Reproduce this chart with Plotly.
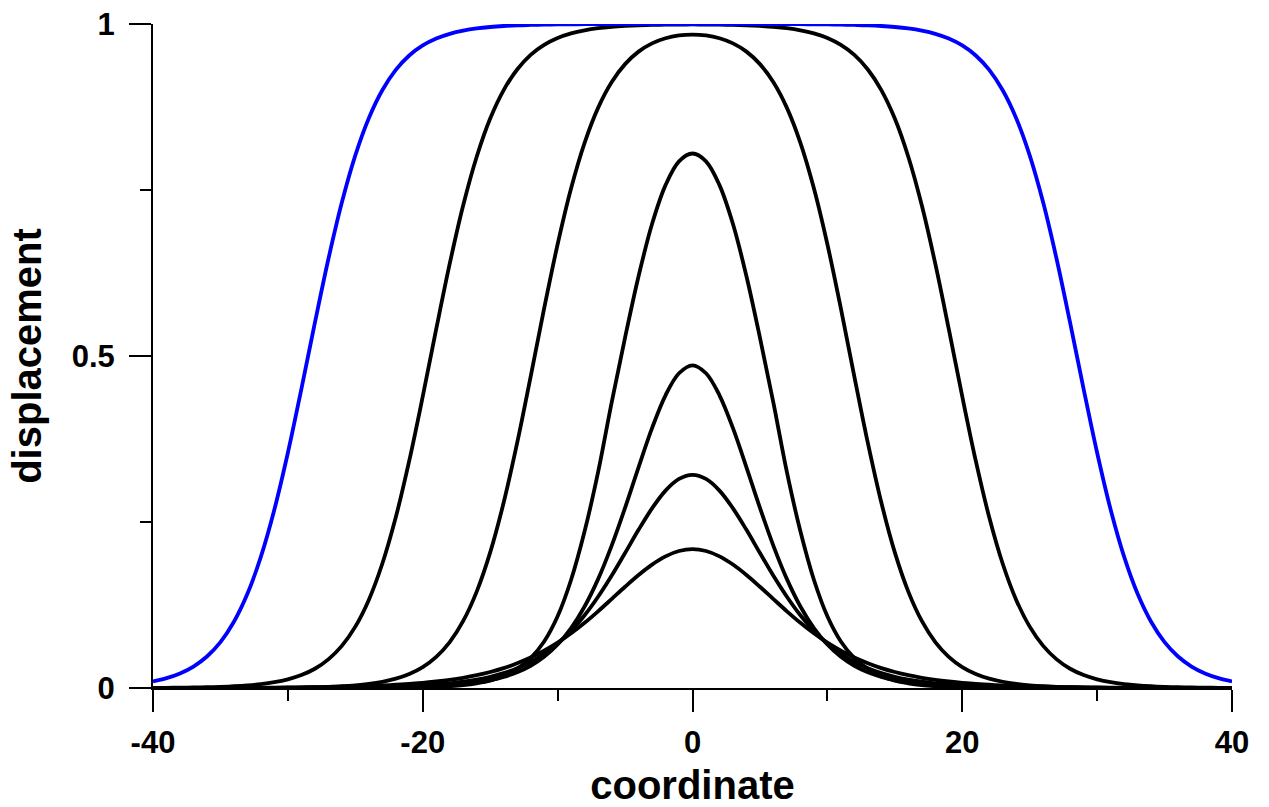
import plotly.graph_objects as go

coordinate = list(range(-40, 41))

disp_blue = [0.0100, 0.0148, 0.0219, 0.0323, 0.0474, 0.0691, 0.0998, 0.1419, 0.1978, 0.2689,
             0.3543, 0.4502, 0.5498, 0.6457, 0.7311, 0.8022, 0.8581, 0.9002, 0.9309, 0.9526,
             0.9677, 0.9781, 0.9852, 0.9900, 0.9933, 0.9955, 0.9970, 0.9980, 0.9986, 0.9991,
             0.9994, 0.9996, 0.9997, 0.9998, 0.9999, 0.9999, 1.0, 1.0, 1.0, 1.0,
             1.0,
             1.0, 1.0, 1.0, 1.0, 0.9999, 0.9999, 0.9998, 0.9997, 0.9996, 0.9994,
             0.9991, 0.9986, 0.9980, 0.9970, 0.9955, 0.9933, 0.9900, 0.9852, 0.9781, 0.9677,
             0.9526, 0.9309, 0.9002, 0.8581, 0.8022, 0.7311, 0.6457, 0.5498, 0.4502, 0.3543,
             0.2689, 0.1978, 0.1419, 0.0998, 0.0691, 0.0474, 0.0323, 0.0219, 0.0148, 0.0100]

disp_c2 = [0.0002, 0.0003, 0.0005, 0.0008, 0.0011, 0.0017, 0.0026, 0.0039, 0.0058, 0.0087,
           0.0131, 0.0195, 0.0290, 0.0431, 0.0634, 0.0924, 0.1327, 0.1871, 0.2571, 0.3424,
           0.4391, 0.5407, 0.6390, 0.7269, 0.8000, 0.8576, 0.9005, 0.9315, 0.9535, 0.9685,
           0.9789, 0.9858, 0.9905, 0.9937, 0.9958, 0.9972, 0.9981, 0.9986, 0.9990, 0.9992,
           0.9993,
           0.9992, 0.9990, 0.9986, 0.9981, 0.9972, 0.9958, 0.9937, 0.9905, 0.9858, 0.9789,
           0.9685, 0.9535, 0.9315, 0.9005, 0.8576, 0.8000, 0.7269, 0.6390, 0.5407, 0.4391,
           0.3424, 0.2571, 0.1871, 0.1327, 0.0924, 0.0634, 0.0431, 0.0290, 0.0195, 0.0131,
           0.0087, 0.0058, 0.0039, 0.0026, 0.0017, 0.0011, 0.0008, 0.0005, 0.0003, 0.0002]

disp_c3 = [0.0, 0.0, 0.0, 0.0, 0.0, 0.0001, 0.0001, 0.0001, 0.0002, 0.0003,
           0.0005, 0.0008, 0.0012, 0.0018, 0.0027, 0.0041, 0.0062, 0.0094, 0.0141, 0.0212,
           0.0316, 0.0470, 0.0692, 0.1010, 0.1452, 0.2042, 0.2793, 0.3691, 0.4691, 0.5716,
           0.6683, 0.7526, 0.8211, 0.8737, 0.9122, 0.9396, 0.9584, 0.9708, 0.9785, 0.9827,
           0.9840,
           0.9827, 0.9785, 0.9708, 0.9584, 0.9396, 0.9122, 0.8737, 0.8211, 0.7526, 0.6683,
           0.5716, 0.4691, 0.3691, 0.2793, 0.2042, 0.1452, 0.1010, 0.0692, 0.0470, 0.0316,
           0.0212, 0.0141, 0.0094, 0.0062, 0.0041, 0.0027, 0.0018, 0.0012, 0.0008, 0.0005,
           0.0003, 0.0002, 0.0001, 0.0001, 0.0001, 0.0, 0.0, 0.0, 0.0, 0.0]

disp_c4 = [0.0, 0.0, 0.0, 0.0, 0.0, 0.0, 0.0, 0.0, 0.0, 0.0,
           0.0, 0.0, 0.0, 0.0, 0.0, 0.0, 0.0001, 0.0002, 0.0004, 0.0006,
           0.0010, 0.0016, 0.0027, 0.0043, 0.0070, 0.0110, 0.0180, 0.0290, 0.0450, 0.0700,
           0.1080, 0.1630, 0.2360, 0.3250, 0.4295, 0.5276, 0.6201, 0.6987, 0.7573, 0.7932,
           0.8050,
           0.7932, 0.7573, 0.6987, 0.6201, 0.5276, 0.4295, 0.3250, 0.2360, 0.1630, 0.1080,
           0.0700, 0.0450, 0.0290, 0.0180, 0.0110, 0.0070, 0.0043, 0.0027, 0.0016, 0.0010,
           0.0006, 0.0004, 0.0002, 0.0001, 0.0, 0.0, 0.0, 0.0, 0.0, 0.0,
           0.0, 0.0, 0.0, 0.0, 0.0, 0.0, 0.0, 0.0, 0.0, 0.0]

disp_c5 = [0.0, 0.0, 0.0, 0.0, 0.0, 0.0, 0.0, 0.0, 0.0, 0.0,
           0.0, 0.0001, 0.0001, 0.0002, 0.0002, 0.0003, 0.0005, 0.0007, 0.0010, 0.0014,
           0.0020, 0.0029, 0.0041, 0.0058, 0.0083, 0.0118, 0.0168, 0.0237, 0.0335, 0.0470,
           0.0655, 0.0903, 0.1228, 0.1640, 0.2141, 0.2714, 0.3324, 0.3913, 0.4408, 0.4740,
           0.4860,
           0.4740, 0.4408, 0.3913, 0.3324, 0.2714, 0.2141, 0.1640, 0.1228, 0.0903, 0.0655,
           0.0470, 0.0335, 0.0237, 0.0168, 0.0118, 0.0083, 0.0058, 0.0041, 0.0029, 0.0020,
           0.0014, 0.0010, 0.0007, 0.0005, 0.0003, 0.0002, 0.0002, 0.0001, 0.0001, 0.0,
           0.0, 0.0, 0.0, 0.0, 0.0, 0.0, 0.0, 0.0, 0.0, 0.0]

disp_c6 = [0.0, 0.0, 0.0, 0.0, 0.0, 0.0, 0.0001, 0.0001, 0.0001, 0.0002,
           0.0002, 0.0003, 0.0004, 0.0005, 0.0007, 0.0009, 0.0012, 0.0017, 0.0022, 0.0030,
           0.0040, 0.0053, 0.0071, 0.0095, 0.0127, 0.0169, 0.0224, 0.0297, 0.0391, 0.0513,
           0.0667, 0.0860, 0.1095, 0.1374, 0.1690, 0.2033, 0.2382, 0.2706, 0.2973, 0.3149,
           0.3210,
           0.3149, 0.2973, 0.2706, 0.2382, 0.2033, 0.1690, 0.1374, 0.1095, 0.0860, 0.0667,
           0.0513, 0.0391, 0.0297, 0.0224, 0.0169, 0.0127, 0.0095, 0.0071, 0.0053, 0.0040,
           0.0030, 0.0022, 0.0017, 0.0012, 0.0009, 0.0007, 0.0005, 0.0004, 0.0003, 0.0002,
           0.0002, 0.0001, 0.0001, 0.0001, 0.0, 0.0, 0.0, 0.0, 0.0, 0.0]

disp_c7 = [0.0001, 0.0001, 0.0001, 0.0001, 0.0002, 0.0002, 0.0003, 0.0004, 0.0005, 0.0006,
           0.0008, 0.0010, 0.0012, 0.0015, 0.0019, 0.0024, 0.0031, 0.0039, 0.0049, 0.0062,
           0.0077, 0.0098, 0.0123, 0.0154, 0.0193, 0.0241, 0.0299, 0.0372, 0.0458, 0.0562,
           0.0683, 0.0824, 0.0982, 0.1155, 0.1339, 0.1525, 0.1702, 0.1859, 0.1983, 0.2063,
           0.2090,
           0.2063, 0.1983, 0.1859, 0.1702, 0.1525, 0.1339, 0.1155, 0.0982, 0.0824, 0.0683,
           0.0562, 0.0458, 0.0372, 0.0299, 0.0241, 0.0193, 0.0154, 0.0123, 0.0098, 0.0077,
           0.0062, 0.0049, 0.0039, 0.0031, 0.0024, 0.0019, 0.0015, 0.0012, 0.0010, 0.0008,
           0.0006, 0.0005, 0.0004, 0.0003, 0.0002, 0.0002, 0.0001, 0.0001, 0.0001, 0.0001]

x_tickvals = [-40, -20, 0, 20, 40]
x_ticktext = ["-40", "-20", "0", "20", "40"]
x_minor = [-30, -10, 10, 30]
y_tickvals = [0, 0.5, 1]
y_ticktext = ["0", "0.5", "1"]
y_minor = [0.25, 0.75]

FONT = "Liberation Sans, Arial, sans-serif"

fig = go.Figure()
black_series = [disp_c7, disp_c6, disp_c5, disp_c4, disp_c3, disp_c2]
for ys in black_series:
    fig.add_trace(go.Scatter(x=coordinate, y=ys, mode="lines",
                             line=dict(color="black", width=3.8, shape="spline", smoothing=1),
                             cliponaxis=False, showlegend=False, hoverinfo="skip"))
fig.add_trace(go.Scatter(x=coordinate, y=disp_blue, mode="lines",
                         line=dict(color="#0000ff", width=3.8, shape="spline", smoothing=1),
                         cliponaxis=False, showlegend=False, hoverinfo="skip"))

fig.update_layout(
    width=1269, height=807,
    margin=dict(l=153, r=37, t=24, b=119, autoexpand=False),
    paper_bgcolor="white", plot_bgcolor="white",
    font=dict(family=FONT, color="black"),
    xaxis=dict(range=[-40, 40], tickmode="array", tickvals=x_tickvals, ticktext=x_ticktext,
               ticks="outside", ticklen=22, tickwidth=2, tickcolor="black",
               showline=True, linewidth=2, linecolor="black",
               showgrid=False, zeroline=False, automargin=False,
               tickfont=dict(family=FONT, size=31, weight="bold"),
               ticklabelstandoff=4,
               minor=dict(tickvals=x_minor, ticks="outside", ticklen=11, tickwidth=2, tickcolor="black", showgrid=False),
               title=dict(text="coordinate", font=dict(family=FONT, size=40, weight="bold"), standoff=13)),
    yaxis=dict(range=[0, 1], tickmode="array", tickvals=y_tickvals, ticktext=y_ticktext,
               ticks="outside", ticklen=22, tickwidth=2, tickcolor="black",
               showline=True, linewidth=2, linecolor="black",
               showgrid=False, zeroline=False, automargin=False,
               tickfont=dict(family=FONT, size=31, weight="bold"),
               ticklabelstandoff=8,
               minor=dict(tickvals=y_minor, ticks="outside", ticklen=11, tickwidth=2, tickcolor="black", showgrid=False),
               title=dict(text="displacement", font=dict(family=FONT, size=40, weight="bold"), standoff=18)),
)

fig.write_html("out.html")
